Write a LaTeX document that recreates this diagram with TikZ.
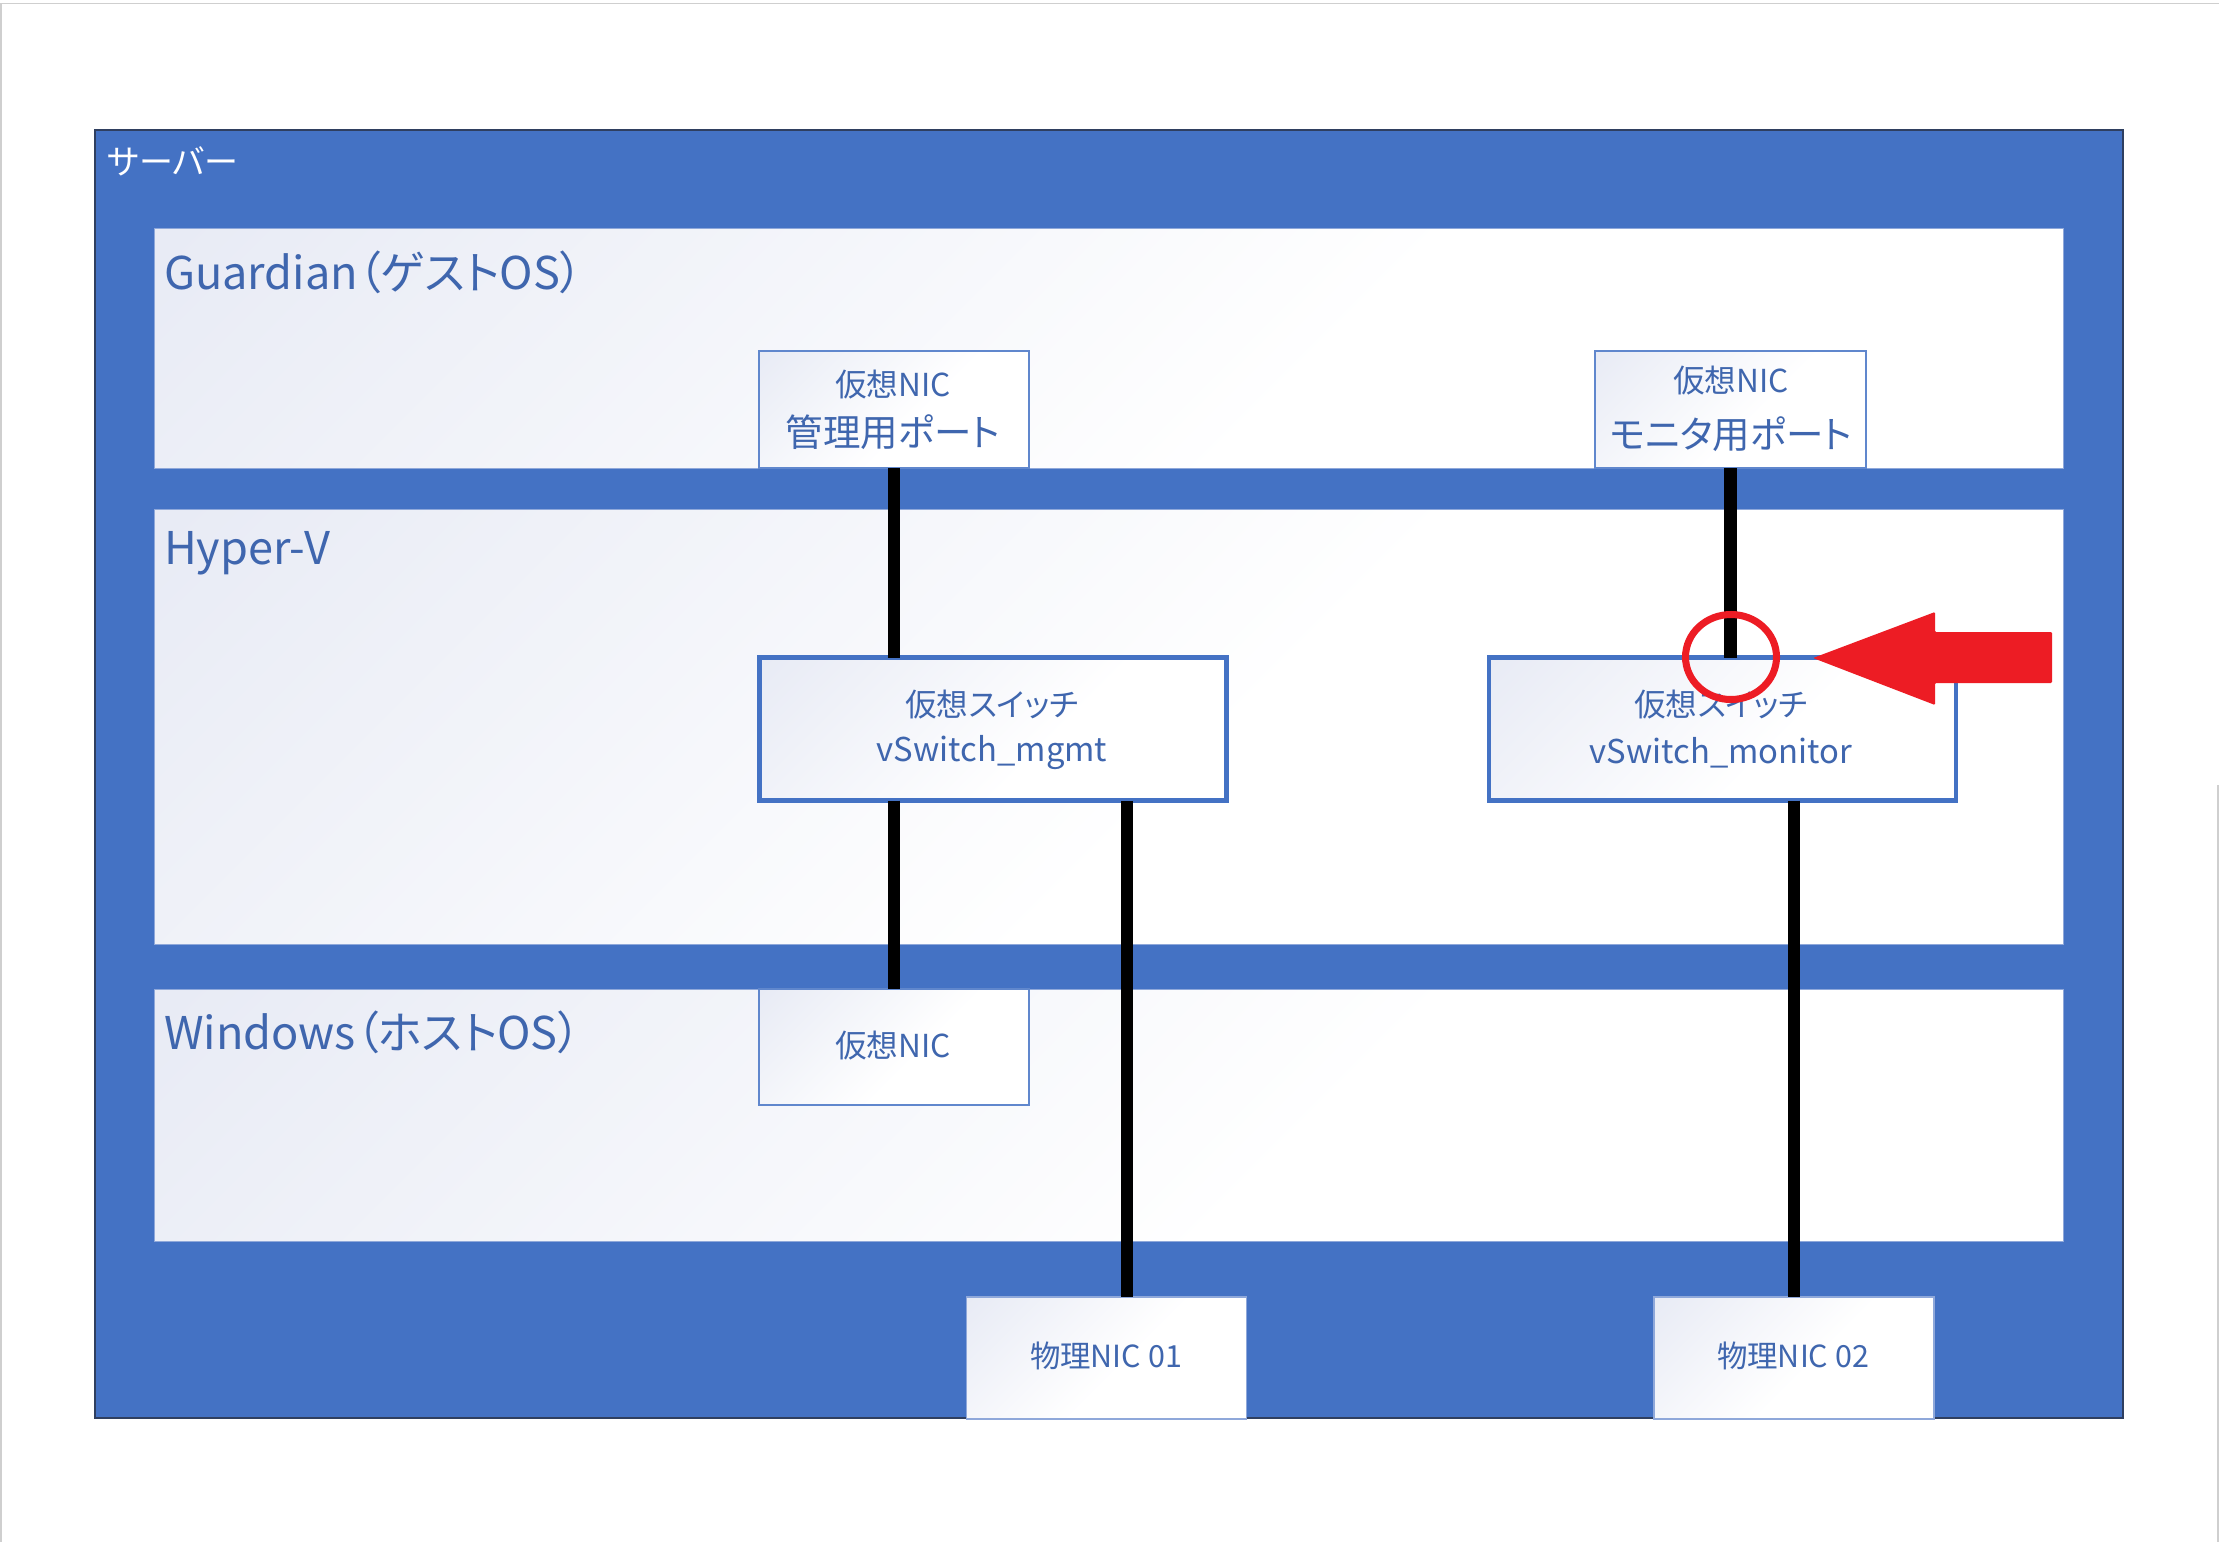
\documentclass[tikz,border=0pt]{standalone}
\usepackage{fontspec}
\setmainfont{Noto Sans CJK JP}[RawFeature=+palt]
\usetikzlibrary{positioning,shapes.geometric}
\definecolor{srvblue}{HTML}{4472C4}
\definecolor{srvedge}{HTML}{2F3F60}
\definecolor{inkblue}{HTML}{3F66AE}
\definecolor{thinedge}{HTML}{8FA8DA}
\definecolor{tintA}{HTML}{E8EBF5}
\definecolor{alertred}{HTML}{ED1C24}
\definecolor{pagegray}{HTML}{CFCFCF}
\pgfdeclarehorizontalshading{panelgrad}{100bp}{color(0bp)=(tintA); color(15bp)=(tintA); color(50bp)=(white); color(100bp)=(white)}
\newlength{\pxu}
\setlength{\pxu}{0.03cm}
\newcommand{\fsz}[1]{\fontsize{#1}{#1}\selectfont}
\tikzset{
  x=0.03cm, y=-0.03cm,
  boxbase/.style 2 args={rectangle, inner sep=0pt, outer sep=0pt, anchor=center, fill=white,
    path picture={\shade[shading=panelgrad, shading angle=-45] (path picture bounding box.north west) rectangle ++(#1,#2);}},
  panel/.style={boxbase={1700}{700}, draw=thinedge, line width=0.6pt},
  nicbox/.style={boxbase={300}{150}, draw=srvblue!85!white, line width=1.5pt},
  physbox/.style={boxbase={300}{150}, draw=thinedge, line width=1pt},
  switchbox/.style={boxbase={560}{190}, draw=srvblue, line width=4pt},
  link/.style={draw=black, line width=11pt},
  lbl/.style={inner sep=0pt, outer sep=0pt, text=inkblue, anchor=center},
  paneltitle/.style={lbl, anchor=west},
}
\begin{document}
\begin{tikzpicture}
\useasboundingbox (0,0) rectangle (2219,1542);
\fill[white] (0,0) rectangle (2219,1542);
% page edge
\draw[pagegray, line width=1.2pt] (0,3.5) -- (2219,3.5);
\draw[pagegray, line width=1.2pt] (1,3.5) -- (1,1542);
\draw[pagegray, line width=1.2pt] (2218,785) -- (2218,1542);
% server
\node[rectangle, inner sep=0pt, outer sep=0pt, fill=srvblue, draw=srvedge, line width=1.5pt, minimum width=2028*\pxu, minimum height=1288*\pxu] (server) at (1109,774) {};
\node[inner sep=0pt, text=white, anchor=west] (serverlbl) at (107,161) {\fsz{29}サーバー};
% panels
\node[panel, minimum width=1909*\pxu, minimum height=240*\pxu] (guest) at (1109,348) {};
\node[panel, minimum width=1909*\pxu, minimum height=435*\pxu] (hyperv) at (1109,726.5) {};
\node[panel, minimum width=1909*\pxu, minimum height=252*\pxu] (host) at (1109,1115) {};
\node[paneltitle] (guestlbl) at (164,272) {\fsz{38.5}Guardian（ゲストOS）};
\node[paneltitle] (hypervlbl) at (164,553) {\fsz{38.5}Hyper-V};
\node[paneltitle] (hostlbl) at (164,1032) {\fsz{38.5}Windows（ホストOS）};
% connectors
\coordinate (swAout) at (1127,801);
\node[nicbox, minimum width=270*\pxu, minimum height=117*\pxu] (vnicA) at (894,409.5) {};
\node[nicbox, minimum width=271*\pxu, minimum height=117*\pxu] (vnicB) at (1730.5,409.5) {};
\node[nicbox, minimum width=270*\pxu, minimum height=116*\pxu] (vnicH) at (894,1047) {};
\node[switchbox, minimum width=467*\pxu, minimum height=143*\pxu] (swA) at (993,729) {};
\node[switchbox, minimum width=467*\pxu, minimum height=143*\pxu] (swB) at (1722.5,729) {};
\node[physbox, minimum width=280*\pxu, minimum height=122*\pxu] (phyA) at (1106.5,1358) {};
\node[physbox, minimum width=280*\pxu, minimum height=122*\pxu] (phyB) at (1794,1358) {};
\draw[link] (vnicA.south) -- (vnicA.south |- swA.north);
\draw[link] (vnicB.south) -- (vnicB.south |- swB.north);
\draw[link] (vnicH.north |- swA.south) -- (vnicH.north);
\draw[link] (swAout) -- (swAout |- phyA.north);
\draw[link] (phyB.north |- swB.south) -- (phyB.north);
% labels
\node[lbl] (vnicAa) at (893,385) {\fsz{27}仮想NIC};
\node[lbl] (vnicAb) at (893,432) {\fsz{32}管理用ポート};
\node[lbl] (vnicBa) at (1731,381) {\fsz{27}仮想NIC};
\node[lbl] (vnicBb) at (1731,434) {\fsz{32}モニタ用ポート};
\node[lbl] (swAa) at (992,705) {\fsz{27}仮想スイッチ};
\node[lbl] (swAb) at (992,753) {\fsz{28}vSwitch\_mgmt};
\node[lbl] (swBa) at (1721,705) {\fsz{27}仮想スイッチ};
\node[lbl] (swBb) at (1721,753) {\fsz{28}vSwitch\_monitor};
\node[lbl] (vnicHa) at (893,1046) {\fsz{27}仮想NIC};
\node[lbl] (phyAa) at (1106,1356) {\fsz{26}物理NIC 01};
\node[lbl] (phyBa) at (1793,1356) {\fsz{26}物理NIC 02};
% alert marks
\node[ellipse, draw=alertred, line width=6pt, inner sep=0pt, minimum width=91*\pxu, minimum height=85*\pxu] (mark) at (1731,657) {};
\fill[alertred, rounded corners=1pt] (1813,658) -- (1935,612) -- (1935,632) -- (2052,632) -- (2052,683) -- (1935,683) -- (1935,705) -- cycle;
\end{tikzpicture}
\end{document}
